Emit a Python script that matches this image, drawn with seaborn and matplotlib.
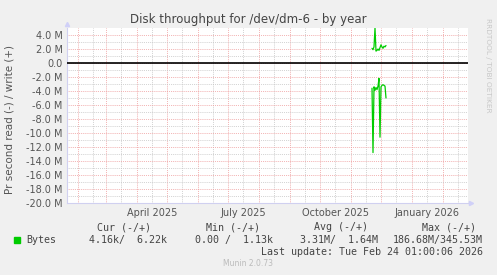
import matplotlib
matplotlib.use("Agg")
import matplotlib.pyplot as plt
import matplotlib.dates as mdates
import seaborn as sns
import pandas as pd
import numpy as np

# ---- data ----
dates = pd.date_range("2025-11-22", periods=15, freq="D")
write_mb = [2.1, 1.9, 2.3, 5.0, 1.7, 1.8, 2.0, 1.8, 2.2, 2.6, 2.3, 2.1, 2.4, 2.3, 2.5]
read_mb = [-3.6, -12.8, -3.4, -3.9, -3.5, -3.8, -3.3, -2.2, -10.6, -3.4, -3.2, -3.1, -3.2, -3.3, -5.0]
month_labels = ["April 2025", "July 2025", "October 2025", "January 2026"]
month_label_dates = ["2025-04-16", "2025-07-16", "2025-10-16", "2026-01-16"]
y_ticks = [4, 2, 0, -2, -4, -6, -8, -10, -12, -14, -16, -18, -20]
legend_headers = ["Cur (-/+)", "Min (-/+)", "Avg (-/+)", "Max (-/+)"]
legend_values = ["4.16k/  6.22k", "0.00 /  1.13k", "3.31M/  1.64M", "186.68M/345.53M"]
series_name = "Bytes"

sns.set_theme(style="white")
plt.rcParams["font.family"] = ["DejaVu Sans"]

W, H = 497, 275
fig = plt.figure(figsize=(W / 100, H / 100), dpi=100, facecolor="#F0F0F0")
L, R, T, B = 67, 468, 28, 203
ax = fig.add_axes([L / W, 1 - B / H, (R - L) / W, (B - T) / H])
ax.set_facecolor("white")

df = pd.DataFrame({
    "date": list(dates) * 2,
    "value": [v * 1e6 for v in write_mb] + [v * 1e6 for v in read_mb],
    "dir": ["write"] * len(dates) + ["read"] * len(dates),
})
green = "#00CC00"
sns.lineplot(data=df, x="date", y="value", units="dir", estimator=None,
             color=green, lw=0.9, ax=ax, legend=False, zorder=5)

ax.set_xlim(pd.Timestamp("2025-01-21"), pd.Timestamp("2026-02-26"))
ax.set_ylim(-20e6, 5e6)

# grid
ax.set_yticks([v * 1e6 for v in y_ticks])
ax.set_yticks(np.arange(-19, 5, 2) * 1e6, minor=True)
ax.xaxis.set_major_locator(mdates.MonthLocator())
ax.xaxis.set_minor_locator(mdates.MonthLocator(bymonthday=16))
ax.grid(True, which="major", color="#EE9A9A", lw=0.6, ls=(0, (1, 1.3)))
ax.grid(True, which="minor", color="#C4C4C4", lw=0.6, ls=(0, (1, 1.3)))
ax.set_axisbelow(True)

def yfmt(v, pos):
    m = v / 1e6
    if abs(m) < 1e-9:
        return "0.0"
    return f"{m:.1f} M"
ax.yaxis.set_major_formatter(plt.FuncFormatter(yfmt))
ax.xaxis.set_major_formatter(plt.NullFormatter())
ax.tick_params(axis="y", which="major", labelsize=7, labelcolor="#555555",
               length=2, width=0.6, color="#E08080", direction="inout", pad=2)
ax.tick_params(axis="y", which="minor", length=2, width=0.6, color="#BBBBBB", direction="inout")
ax.tick_params(axis="x", which="major", length=3, width=0.6, color="#E08080", direction="inout")
ax.tick_params(axis="x", which="minor", length=3, width=0.6, color="#BBBBBB", direction="inout")

for lab, d in zip(month_labels, month_label_dates):
    ax.text(pd.Timestamp(d), -0.055, lab, transform=ax.get_xaxis_transform(),
            ha="center", va="center", fontsize=7, color="#555555")

ax.axhline(0, color="black", lw=1.2, zorder=4)

for s in ["top", "right"]:
    ax.spines[s].set_visible(False)
for s in ["left", "bottom"]:
    ax.spines[s].set_color("#D0D0F0")
    ax.spines[s].set_linewidth(0.8)
ax.plot([0], [1.025], marker="^", ms=3, color="#D0D0F8", transform=ax.transAxes, clip_on=False)
ax.plot([1.008], [0], marker=">", ms=3, color="#D0D0F8", transform=ax.transAxes, clip_on=False)

ax.set_xlabel("")
ax.set_ylabel("")

def px(x, y):
    return x / W, 1 - y / H

fig.text(*px(248, 19), "Disk throughput for /dev/dm-6 - by year", ha="center", va="center",
         fontsize=8.5, color="#444444")
fig.text(*px(10, 120), "Pr second read (-) / write (+)", rotation=90, ha="center", va="center",
         fontsize=7.5, color="#555555")
fig.text(*px(488, 18), "RRDTOOL / TOBI OETIKER", rotation=270, ha="center", va="top",
         fontsize=5.3, color="#C8C8C8")

mono = "DejaVu Sans Mono"
hdr_right = [151, 260, 368, 476]
val_right = [167, 273, 378, 483]
for t, xr in zip(legend_headers, hdr_right):
    fig.text(*px(xr, 227.5), t, ha="right", va="center", fontsize=7.2, family=mono, color="#444444")
for t, xr in zip(legend_values, val_right):
    fig.text(*px(xr, 240), t, ha="right", va="center", fontsize=7.2, family=mono, color="#444444")
fig.text(*px(26, 240), series_name, ha="left", va="center", fontsize=7.2, family=mono, color="#444444")
fig.patches.append(plt.Rectangle(px(14, 243), 6 / W, 6 / H, transform=fig.transFigure,
                                 color=green, figure=fig))
fig.text(*px(483, 252), "Last update: Tue Feb 24 01:00:06 2026", ha="right", va="center",
         fontsize=7.2, family=mono, color="#444444")
fig.text(*px(248, 264), "Munin 2.0.73", ha="center", va="center", fontsize=5.5, color="#BBBBBB")

fig.savefig("out.png", dpi=100, facecolor=fig.get_facecolor())
